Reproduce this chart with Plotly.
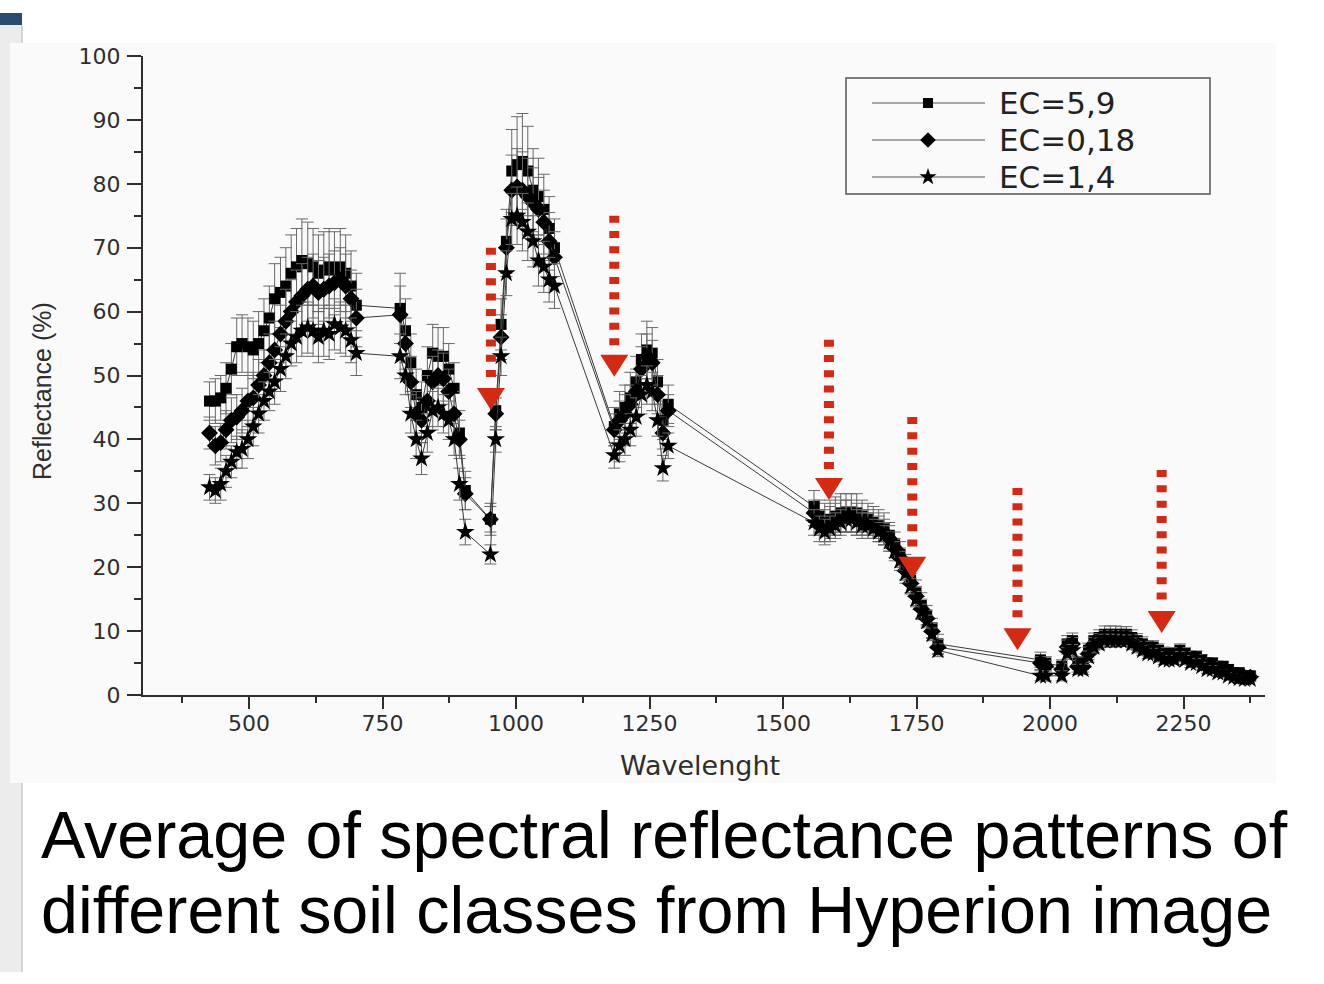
import plotly.graph_objects as go

# ---------------- data ----------------
wavelength = [426, 437, 447, 457, 467, 477, 487, 498, 508, 518, 528, 538, 548, 559, 569, 579, 589, 599, 610, 620,
              630, 640, 650, 660, 671, 681, 691, 701,
              783, 793, 803, 813, 823, 834, 844, 854, 864, 874, 884, 894, 905, 952,
              962, 972, 982, 992, 1002, 1012, 1022, 1032, 1042, 1052, 1062, 1072,
              1184, 1194, 1204, 1214, 1225, 1235, 1245, 1255, 1265, 1275, 1285,
              1558, 1568, 1578, 1588, 1598, 1608, 1618, 1628, 1638, 1648, 1659, 1669, 1679, 1689, 1699, 1709,
              1719, 1729, 1739, 1749, 1759, 1769, 1779, 1790,
              1982, 1992, 2022, 2032, 2042, 2052, 2062, 2072, 2082, 2092, 2102, 2113, 2123, 2133, 2143, 2153,
              2163, 2173, 2183, 2193, 2203, 2213, 2223, 2233, 2243, 2253, 2263, 2274, 2284, 2294, 2304, 2314,
              2324, 2334, 2344, 2354, 2364, 2375]

ec_5_9 = [46, 46, 46.5, 48, 51, 54.5, 55, 54.5, 54, 55, 57, 59, 62, 63, 64, 66, 67, 68, 67.5, 67,
          66, 66.5, 67, 66.5, 67, 66, 64, 61,
          60.5, 57, 52, 47, 45, 50, 53.5, 53, 53, 51, 48, 41, 32, 27.5,
          44.5, 58, 71, 82, 83, 83.5, 82, 79, 78, 76, 73, 70,
          42, 44, 45, 46.5, 49, 52.5, 54, 53.5, 49, 43, 45.5,
          29.5, 28, 27, 27.5, 28, 28.5, 28.5, 28.5, 28.5, 28, 27.5, 27, 26.5, 26, 25, 23.5,
          22, 20, 18, 16, 14, 12.5, 10.5, 8,
          5.5, 5, 4.5, 8, 8.5, 5, 5, 7, 8.5, 9, 9.5, 9.5, 9.5, 9.5, 9.5, 9,
          8.5, 8, 7.5, 7.5, 7, 6.5, 6.5, 6.5, 7, 6.5, 6, 6, 5.5, 5, 5, 4.5,
          4.5, 4, 3.5, 3.5, 3, 3]

ec_0_18 = [41, 39, 39.5, 41.5, 43, 43.5, 44.5, 46, 46.5, 48.5, 50, 52, 54, 56.5, 58.5, 60, 61.5, 62.5, 63.5, 64,
           63, 63.5, 64, 64.5, 65, 64, 62, 59,
           59.5, 55, 49, 44, 43, 46, 49, 50, 49.5, 47.5, 44, 40, 31.5, 27.5,
           44, 56, 70, 79, 79.5, 79, 78, 77, 76, 74, 71, 68.5,
           41.5, 43, 44, 45.5, 47.5, 51, 53, 52, 47, 41, 44.5,
           28.5, 27, 26.5, 27, 27.5, 28, 28, 28, 27.5, 27, 27, 26.5, 26, 25.5, 24.5, 23,
           21.5, 19.5, 17.5, 15.5, 13.5, 12, 10, 7.5,
           5, 4.5, 4, 7.5, 8, 4.5, 4.5, 6.5, 8, 8.5, 9, 9, 9, 9, 9, 8.5,
           8, 7.5, 7, 7, 6.5, 6, 6, 6, 6.5, 6, 5.5, 5.5, 5, 4.5, 4.5, 4,
           4, 3.5, 3, 3, 2.8, 2.8]

ec_1_4 = [32.5, 32, 33, 35, 36.5, 38, 38.5, 40, 42, 44, 46, 47.5, 49, 51, 53, 55, 56, 57, 57.5, 57,
          56, 57, 56.5, 58, 57.5, 57, 55.5, 53.5,
          53, 50, 44, 40, 37, 41, 44.5, 45, 44, 43, 40, 33, 25.5, 22,
          40, 53, 66, 74.5, 75, 74, 72.5, 71, 68, 67, 65, 64,
          37.5, 39, 40, 41.5, 43.5, 47, 48.5, 47.5, 43, 35.5, 39,
          27, 26, 25.5, 26, 26.5, 27, 27.5, 27.5, 27, 26.5, 26.5, 26, 25.5, 25, 24, 22.5,
          21, 19, 17, 15, 13, 11.5, 9.5, 7,
          3, 3, 3, 6.5, 7, 4, 4, 6, 7.5, 8, 8.5, 8.5, 8.5, 8.5, 8.5, 8,
          7.5, 7, 6.5, 6.5, 6, 5.5, 5.5, 5.5, 6, 5.5, 5, 5, 4.5, 4, 4, 3.5,
          3.5, 3, 2.8, 2.6, 2.5, 2.5]

err_5_9 = [3, 3.5, 3.5, 4, 4, 4.5, 4.5, 4.5, 4.5, 5, 5, 5, 5.5, 5.5, 6, 6, 6, 6.5, 6.5, 6,
           6, 6, 6, 6, 6, 6, 5.5, 5,
           5.5, 5, 4.5, 4, 4, 4.5, 4.5, 4.5, 4.5, 4, 4, 3.5, 3, 2.5,
           3, 4, 5, 6.5, 7.5, 7.5, 7, 6.5, 6, 5.5, 5, 4.5,
           3, 3.5, 3.5, 4, 4, 4, 4.5, 4, 3.5, 3, 3,
           2.5, 2.5, 3, 3, 3, 3, 3, 3, 3, 2.5, 2.5, 2.5, 2.5, 2.5, 2, 2,
           2, 2, 2, 2, 2, 1.5, 1.5, 1.5,
           1.2, 1, 1, 1.3, 1.2, 1, 1, 1.1, 1.2, 1.2, 1.3, 1.3, 1.3, 1.2, 1.2, 1.2,
           1.1, 1.1, 1, 1, 1, 1, 0.9, 0.9, 1, 0.9, 0.9, 0.9, 0.8, 0.8, 0.8, 0.7,
           0.7, 0.7, 0.6, 0.6, 0.6, 0.6]

err_0_18 = [2.5, 3, 3, 3, 3.5, 3.5, 3.5, 4, 4, 4, 4, 4.5, 4.5, 4.5, 5, 5, 5, 5, 5, 5,
            5, 5, 5, 5, 5, 5, 4.5, 4.5,
            4.5, 4, 4, 3.5, 3.5, 4, 4, 4, 4, 3.5, 3.5, 3, 2.5, 2,
            2.5, 3.5, 4.5, 5.5, 6, 6, 6, 5.5, 5, 5, 4.5, 4,
            2.5, 3, 3, 3, 3.5, 3.5, 3.5, 3.5, 3, 2.5, 2.5,
            2, 2, 2.5, 2.5, 2.5, 2.5, 2.5, 2.5, 2.5, 2, 2, 2, 2, 2, 2, 1.5,
            1.5, 1.5, 1.5, 1.5, 1.5, 1.2, 1.2, 1.2,
            1, 0.9, 0.9, 1.1, 1, 0.9, 0.9, 1, 1, 1.1, 1.1, 1.1, 1.1, 1, 1, 1,
            1, 0.9, 0.9, 0.9, 0.9, 0.8, 0.8, 0.8, 0.9, 0.8, 0.8, 0.8, 0.7, 0.7, 0.7, 0.6,
            0.6, 0.6, 0.5, 0.5, 0.5, 0.5]

err_1_4 = [2, 2, 2.5, 2.5, 2.5, 2.5, 3, 3, 3, 3, 3, 3, 3.5, 3.5, 3.5, 3.5, 4, 4, 4, 4,
           4, 4, 4, 4, 4, 4, 3.5, 3.5,
           3.5, 3, 3, 3, 2.5, 3, 3, 3, 3, 3, 2.5, 2.5, 2, 1.5,
           2, 3, 3.5, 4, 4.5, 4.5, 4.5, 4, 4, 4, 3.5, 3.5,
           2, 2.5, 2.5, 2.5, 3, 3, 3, 3, 2.5, 2, 2,
           2, 2, 2, 2, 2, 2, 2, 2, 2, 2, 2, 1.5, 1.5, 1.5, 1.5, 1.5,
           1.5, 1.5, 1.2, 1.2, 1.2, 1, 1, 1,
           0.8, 0.8, 0.8, 0.9, 0.9, 0.8, 0.8, 0.9, 0.9, 0.9, 1, 1, 1, 0.9, 0.9, 0.9,
           0.9, 0.8, 0.8, 0.8, 0.8, 0.7, 0.7, 0.7, 0.8, 0.7, 0.7, 0.7, 0.6, 0.6, 0.6, 0.5,
           0.5, 0.5, 0.5, 0.5, 0.4, 0.4]

series_names = ["EC=5,9", "EC=0,18", "EC=1,4"]
series_symbols = ["square", "diamond", "star"]
series_sizes = [11, 13, 14]

# red dotted arrows (wavelength, top of dotted line, tip of arrow head)
arrow_x = [953, 1184, 1586, 1742, 1939, 2209]
arrow_top = [70, 75, 55.6, 43.5, 32.4, 35.2]
arrow_tip = [44.6, 49.8, 30.5, 18.2, 7.0, 9.7]

x_ticks = [500, 750, 1000, 1250, 1500, 1750, 2000, 2250]
caption_lines = ["Average of spectral reflectance patterns of",
                 "different soil classes from Hyperion image"]

# ---------------- layout helpers ----------------
W, H = 1324, 984
L, R, T, B = 143, 1265, 56, 695


def px(xp):
    return (xp - L) / (R - L)


def py(yp):
    return (B - yp) / (B - T)


AX = "#2e2e2e"
RED = "#d42a14"

fig = go.Figure()

ys = [ec_5_9, ec_0_18, ec_1_4]
errs = [err_5_9, err_0_18, err_1_4]
for name, y, e, sym, sz in zip(series_names, ys, errs, series_symbols, series_sizes):
    fig.add_trace(go.Scatter(
        x=wavelength, y=y, name=name, mode="lines+markers",
        line=dict(color="#3a3a3a", width=1),
        marker=dict(symbol=sym, size=sz, color="black", line=dict(width=0)),
        error_y=dict(type="data", array=e, visible=True, color="#6a6a6a", thickness=1, width=6),
        showlegend=False, hoverinfo="skip"))

# custom legend drawn on overlay axes (0..1 = plot area)
leg_rows_y = [py(103), py(140), py(177)]
for name, sym, sz, yy in zip(series_names, series_symbols, series_sizes, leg_rows_y):
    fig.add_trace(go.Scatter(
        x=[px(872), px(985)], y=[yy, yy], mode="lines",
        line=dict(color="#555555", width=1.2), xaxis="x2", yaxis="y2",
        showlegend=False, hoverinfo="skip"))
    fig.add_trace(go.Scatter(
        x=[px(928)], y=[yy], mode="markers",
        marker=dict(symbol=sym, size=sz - 1, color="black"), xaxis="x2", yaxis="y2",
        showlegend=False, hoverinfo="skip"))

shapes = []
# page decorations (slide background)
shapes.append(dict(type="rect", xref="paper", yref="paper", x0=px(0), x1=px(22), y0=py(972), y1=py(25),
                   fillcolor="#ececec", line=dict(width=0), layer="below"))
shapes.append(dict(type="line", xref="paper", yref="paper", x0=px(22), x1=px(22), y0=py(972), y1=py(25),
                   line=dict(color="#c9c9c9", width=1.5), layer="below"))
shapes.append(dict(type="rect", xref="paper", yref="paper", x0=px(0), x1=px(22), y0=py(25), y1=py(13),
                   fillcolor="#2b4a6f", line=dict(width=0), layer="below"))
shapes.append(dict(type="rect", xref="paper", yref="paper", x0=px(10), x1=px(1276), y0=py(783), y1=py(43),
                   fillcolor="#fafafa", line=dict(width=0), layer="below"))
# legend box
shapes.append(dict(type="rect", xref="paper", yref="paper", x0=px(846), x1=px(1210), y0=py(194), y1=py(78),
                   line=dict(color="#555555", width=1.5), fillcolor="rgba(0,0,0,0)"))
# arrows
for ax_, top, tip in zip(arrow_x, arrow_top, arrow_tip):
    head_h = 22 / ((B - T) / 100.0)
    shapes.append(dict(type="line", xref="x", yref="y", x0=ax_, x1=ax_, y0=top, y1=tip + head_h + 0.8,
                       line=dict(color=RED, width=10, dash="7px,8.3px")))
    shapes.append(dict(type="path", xref="x", yref="y", xsizemode="pixel", ysizemode="pixel",
                       xanchor=ax_, yanchor=tip, path="M -14,22 L 14,22 L 0,0 Z",
                       fillcolor=RED, line=dict(width=0)))

annotations = []
for txt, yy in zip(series_names, leg_rows_y):
    annotations.append(dict(xref="paper", yref="paper", x=px(998), y=yy, text=txt, showarrow=False,
                            xanchor="left", yanchor="middle", borderpad=0,
                            font=dict(family="DejaVu Sans", size=31, color="#222222")))
annotations.append(dict(xref="paper", yref="paper", x=px(42), y=py(391), text="Reflectance (%)",
                        textangle=-90, showarrow=False, xanchor="center", yanchor="middle",
                        font=dict(family="Liberation Sans", size=25, color=AX)))
annotations.append(dict(xref="paper", yref="paper", x=px(700), y=py(765), text="Wavelenght",
                        showarrow=False, xanchor="center", yanchor="middle",
                        font=dict(family="DejaVu Sans", size=27, color=AX)))
for txt, yc in zip(caption_lines, [835, 910]):
    annotations.append(dict(xref="paper", yref="paper", x=px(39), y=py(yc), text=txt,
                            showarrow=False, xanchor="left", yanchor="middle",
                            font=dict(family="Liberation Sans", size=66.4, color="black")))

fig.update_layout(
    width=W, height=H,
    margin=dict(l=L, r=W - R, t=T, b=H - B, pad=0),
    paper_bgcolor="white", plot_bgcolor="rgba(0,0,0,0)",
    font=dict(family="DejaVu Sans", color=AX),
    showlegend=False,
    shapes=shapes, annotations=annotations,
    xaxis=dict(range=[301.5, 2402.5], tickmode="array", tickvals=x_ticks,
               ticks="outside", ticklen=12, tickwidth=2, tickcolor=AX, ticklabelstandoff=-4,
               showline=True, linecolor=AX, linewidth=2, showgrid=False, zeroline=False,
               tickfont=dict(family="DejaVu Sans", size=22, color=AX),
               minor=dict(tick0=375, dtick=125, ticks="outside", ticklen=6, tickwidth=2, tickcolor=AX)),
    yaxis=dict(range=[0, 100], tick0=0, dtick=10, ticks="outside", ticklen=14, tickwidth=2, tickcolor=AX,
               ticklabelstandoff=2,
               showline=True, linecolor=AX, linewidth=2, showgrid=False, zeroline=False,
               tickfont=dict(family="DejaVu Sans", size=22, color=AX),
               minor=dict(dtick=5, ticks="outside", ticklen=7, tickwidth=2, tickcolor=AX)),
    xaxis2=dict(range=[0, 1], overlaying="x", visible=False, anchor="y2"),
    yaxis2=dict(range=[0, 1], overlaying="y", visible=False, anchor="x2"),
)

fig.write_html("out.html", config={"displayModeBar": False},
               post_script="document.body.style.margin='0';document.body.style.padding='0';"
                           "document.documentElement.style.overflow='hidden';")
